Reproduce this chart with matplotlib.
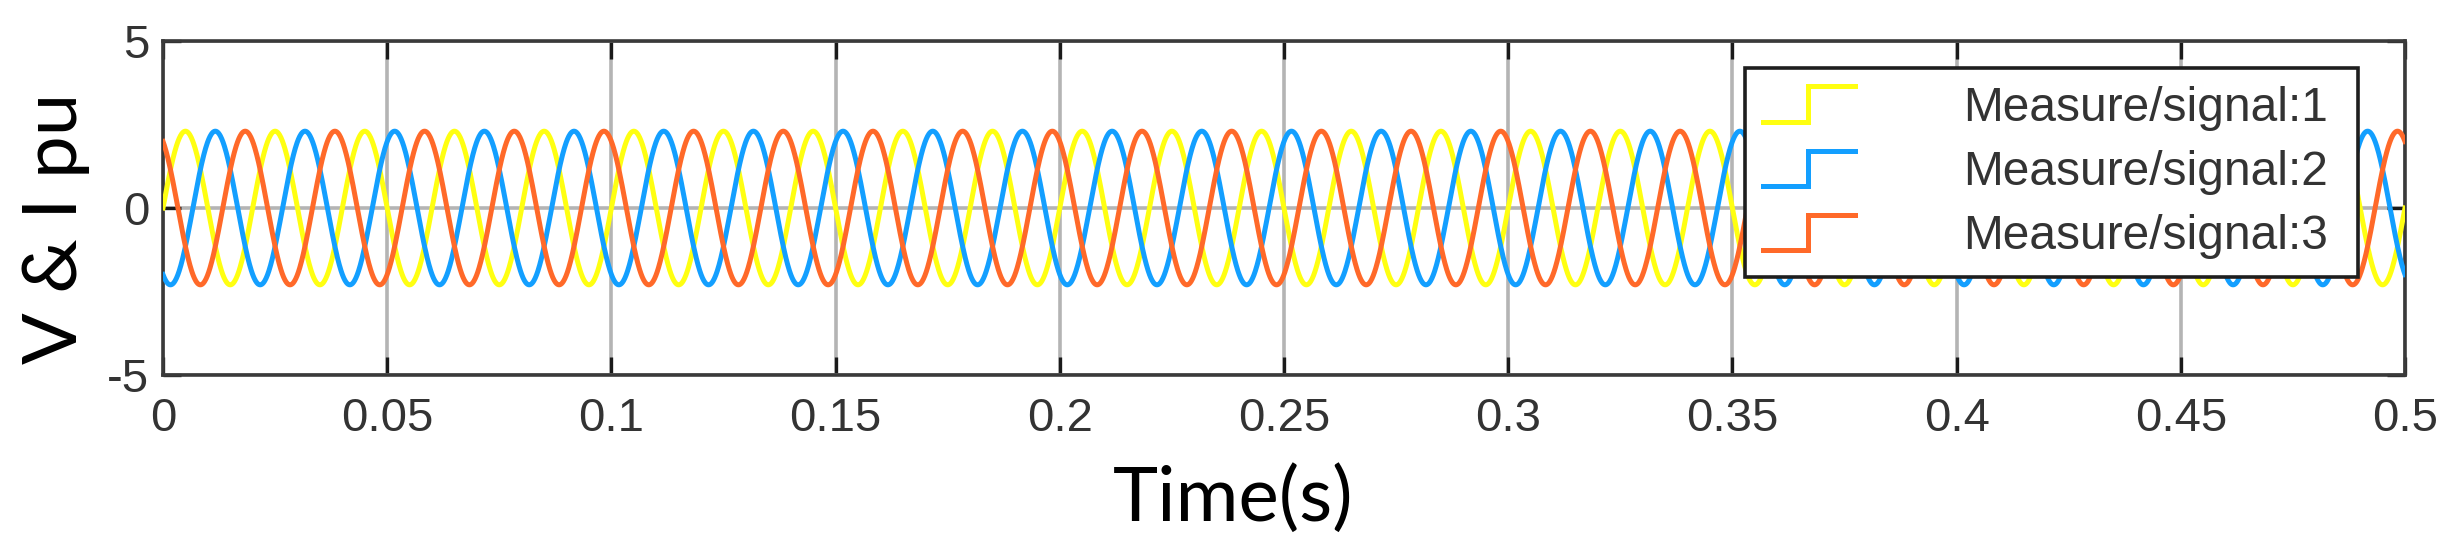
import numpy as np
import matplotlib
matplotlib.use("Agg")
import matplotlib.pyplot as plt
from matplotlib.legend_handler import HandlerBase
from matplotlib.lines import Line2D

plt.rcParams['axes.unicode_minus'] = False

# ---- data (three-phase signals) ----
signal_names = ["Measure/signal:1", "Measure/signal:2", "Measure/signal:3"]
signal_amplitude = [2.3, 2.3, 2.3]          # pu
signal_frequency = [50.0, 50.0, 50.0]       # Hz
signal_phase_deg = [0.0, -120.0, 120.0]     # degrees
signal_colors = ["#FFFF11", "#139FFF", "#FF6929"]
t_start, t_stop, t_step = 0.0, 0.5, 1e-4
x_ticks = [0, 0.05, 0.1, 0.15, 0.2, 0.25, 0.3, 0.35, 0.4, 0.45, 0.5]
x_tick_labels = ["0", "0.05", "0.1", "0.15", "0.2", "0.25", "0.3", "0.35", "0.4", "0.45", "0.5"]
y_ticks = [-5, 0, 5]
y_tick_labels = ["-5", "0", "5"]

W, H = 2454, 554
fig = plt.figure(figsize=(W / 100, H / 100), dpi=100)
ax = fig.add_axes([163 / W, 1 - 375 / H, (2405 - 163) / W, (375 - 41) / H])

t = np.arange(t_start, t_stop + t_step / 2, t_step)
lines = []
for name, a, f, p, c in zip(signal_names, signal_amplitude, signal_frequency,
                            signal_phase_deg, signal_colors):
    y = a * np.sin(2 * np.pi * f * t + np.deg2rad(p))
    ln, = ax.plot(t, y, color=c, lw=3.6, label=name, zorder=3)
    lines.append(ln)

ax.set_xlim(0, 0.5)
ax.set_ylim(-5, 5)
ax.set_xticks(x_ticks)
ax.set_xticklabels(x_tick_labels)
ax.set_yticks(y_ticks)
ax.set_yticklabels(y_tick_labels)

ax.grid(True, color="#b4b4b4", lw=2.6, zorder=1)
for s in ax.spines.values():
    s.set_color("#3a3a3a")
    s.set_linewidth(2.6)
ax.tick_params(direction="in", length=13, width=2.4, color="#1a1a1a",
               top=True, right=True, labelsize=34, labelcolor="#333333")
ax.tick_params(axis="x", pad=16)
ax.tick_params(axis="y", pad=10)
for lab in ax.get_xticklabels() + ax.get_yticklabels():
    lab.set_family("Liberation Sans")

fig.text(55 / W, 1 - 228 / H, "V & I pu", rotation=90, ha="center", va="center",
         fontsize=55, family="Lato", color="black")
fig.text(1233 / W, 1 - 499 / H, "Time(s)", ha="center", va="center",
         fontsize=55, family="Lato", color="black")


class StepHandler(HandlerBase):
    def create_artists(self, legend, orig_handle, xdescent, ydescent, width,
                       height, fontsize, trans):
        x0, y0 = -xdescent, -ydescent
        xm = x0 + width * 0.49
        ln = Line2D([x0, xm, xm, x0 + width], [y0, y0, y0 + height, y0 + height],
                    color=orig_handle.get_color(), lw=3.6,
                    solid_joinstyle="miter", transform=trans)
        return [ln]


leg_x0, leg_x1, leg_y0, leg_y1 = 1745, 2358, 68, 275
leg = ax.legend(handles=lines, labels=signal_names,
                handler_map={Line2D: StepHandler()},
                loc="upper left", mode="expand",
                bbox_to_anchor=(leg_x0 / W, 1 - leg_y1 / H,
                                (leg_x1 - leg_x0) / W, (leg_y1 - leg_y0) / H),
                bbox_transform=fig.transFigure,
                prop={"family": "Liberation Sans", "size": 34.5},
                fancybox=False, framealpha=1, edgecolor="#1e1e1e",
                handlelength=1.92, handleheight=0.77, handletextpad=2.25,
                labelspacing=0.4, borderpad=0.375, borderaxespad=0)
leg.get_frame().set_linewidth(2.6)
for txt in leg.get_texts():
    txt.set_color("#333333")
leg.set_zorder(5)

fig.savefig("out.png", dpi=100)
